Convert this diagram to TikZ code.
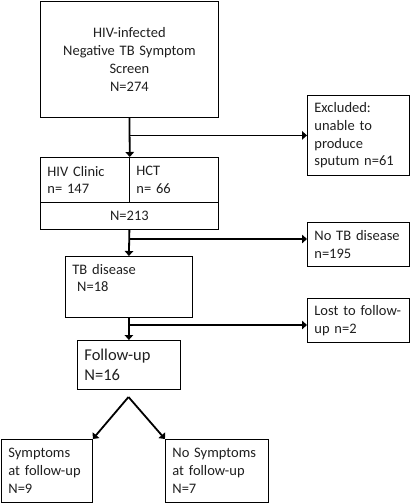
\documentclass[tikz,border=0pt]{standalone}
\usepackage{fontspec}
\setmainfont{Carlito}
\usetikzlibrary{arrows.meta}
\begin{document}
\begin{tikzpicture}[x=1pt,y=-1pt,
  box/.style={draw=black,line width=0.8pt,anchor=north west,inner xsep=7pt,inner ysep=0pt,
    align=left,font=\fontsize{14.5}{17.8}\selectfont,text=black!88},
  arr/.style={line width=1.8pt,-{Triangle[length=5pt,width=8.5pt]}},
  ln/.style={line width=1.8pt}]
\useasboundingbox (0,0) rectangle (410,503);
% boxes
\node[box,text width=164pt,minimum height=116pt,align=center] (top) at (40,1)
  {HIV-infected\\Negative TB Symptom\\Screen\\N=274};
\node[box,text width=88pt,minimum height=80pt] (excl) at (307,95)
  {Excluded:\\unable to\\produce\\sputum n=61};
\node[box,text width=75pt,minimum height=45pt] (hiv) at (40,157)
  {HIV Clinic\\n= 147};
\node[box,text width=75pt,minimum height=45pt] (hct) at (129,157)
  {HCT\\n= 66};
\node[box,text width=164pt,minimum height=27pt,align=center] (n213) at (40,202)
  {N=213};
\node[box,text width=88pt,minimum height=44pt] (notb) at (307,222)
  {No TB disease\\n=195};
\node[box,text width=113pt,minimum height=61pt] (tb) at (65,256)
  {TB disease\\\ N=18\\\mbox{}};
\node[box,text width=88pt,minimum height=44pt] (lost) at (307,298)
  {Lost to follow-\\up n=2};
\node[box,text width=89pt,minimum height=49pt,inner xsep=7pt,font=\fontsize{16.5}{20}\selectfont] (fu) at (77,340)
  {Follow-up\\N=16};
\node[box,text width=77pt,minimum height=63pt] (symp) at (1,439)
  {Symptoms\\at follow-up\\N=9};
\node[box,text width=89pt,minimum height=63pt] (nosymp) at (165,439)
  {No Symptoms\\at follow-up\\N=7};
% connectors
\draw[arr] (top.south) -- (hiv.north east);
\draw[arr] (top.south |- excl.west) -- (excl.west);
\coordinate (b2) at (129,239);
\draw[arr] (n213.south) -- (tb.north);
\draw[arr] (b2) -- (notb.west |- b2);
\coordinate (b3) at (128.5,325);
\draw[arr] (tb.south) -- (fu.north);
\draw[arr] (b3) -- (lost.west |- b3);
\coordinate (apex) at (128.5,397);
\draw[arr] (apex) -- (symp.north east);
\draw[arr] (apex) -- (nosymp.north west);
\end{tikzpicture}
\end{document}
